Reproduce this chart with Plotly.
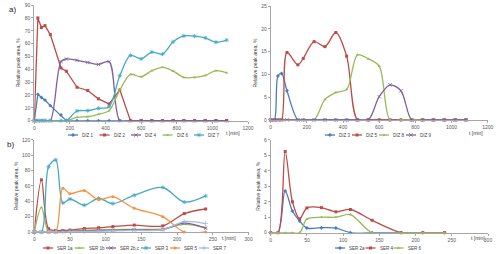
import plotly.graph_objects as go

# ---------------- data ----------------
t_a = [0, 20, 40, 60, 90, 150, 180, 240, 300, 360, 420, 480, 540, 600, 660, 720, 780, 840, 900, 960, 1020, 1080]

diz1 = [0, 20.5, 18, 16, 11.7, 4.4, 0, 0, 0, 0, 0, 0, 0, 0, 0, 0, 0, 0, 0, 0, 0, 0]
diz2 = [0, 80, 72.5, 74, 67, 41, 38.5, 26, 23.5, 17, 13, 24, 0, 0, 0, 0, 0, 0, 0, 0, 0, 0]
diz4 = [0, 0, 0, 0, 0, 46, 48, 47, 45.3, 43.8, 46, 0, 0, 0, 0, 0, 0, 0, 0, 0, 0, 0]
diz6 = [0, 0, 0, 0, 0, 0, 0, 2.6, 3.1, 4.9, 7.8, 23.8, 36, 34.2, 38.9, 41.5, 38.6, 33.7, 33.7, 35.2, 38.9, 37.3]
diz7 = [0, 0, 0, 0, 0, 0, 0, 7.5, 7.8, 9.6, 10.9, 35, 50.8, 48.2, 53.4, 51.8, 61.4, 66, 65.8, 64.5, 61.1, 62.7]

diz3 = [0, 0, 9.65, 10.2, 6.4, 0, 0, 0, 0, 0, 0, 0, 0, 0, 0, 0, 0, 0, 0, 0, 0, 0]
diz5 = [0, 0, 0, 0, 14.8, 12.1, 13.5, 17.2, 16.1, 19.2, 14.0, 0, 0, 0, 0, 0, 0, 0, 0, 0, 0, 0]
diz8 = [0, 0, 0, 0, 0, 0, 0, 0, 4.5, 6.0, 6.7, 14.3, 13.4, 11.8, 0, 0, 0, 0, 0, 0, 0, 0]
diz9 = [0, 0, 0, 0, 0, 0, 0, 0, 0, 0, 0, 0, 0, 5.1, 7.7, 6.4, 0, 0, 0, 0, 0, 0]

t_b = [0, 10, 20, 30, 40, 50, 70, 90, 110, 140, 180, 210, 240]

ser1a = [0, 68, 4.3, 2, 2, 2.5, 4.5, 5.5, 7, 9, 8, 24, 30]
ser1b = [0, 32, 0, 0.5, 0.5, 1, 2, 3, 3, 3.5, 4, 10, 5.5]
ser2bc = [0, 0, 0, 0, 0.5, 0.8, 1.2, 1.8, 2.2, 2.8, 3.2, 11.5, 5]
ser3 = [0, 0, 85, 94, 38, 43, 35, 44, 37, 48, 58, 39, 47]
ser5 = [0, 0, 0, 0, 57, 50, 54, 42, 46, 31, 20, 0, 0]
ser7 = [0, 0, 0, 0, 0, 0.5, 0.5, 1, 1.5, 2, 3, 13.5, 11]

ser2a = [0, 0, 2.7, 1.4, 0.75, 0.3, 0.32, 0.3, 0, 0, 0, 0, 0]
ser4 = [0, 0, 5.25, 2.0, 0.9, 1.6, 1.62, 1.35, 1.5, 0.8, 0, 0, 0]
ser6 = [0, 0, 0, 0, 0, 0.88, 1.0, 1.0, 1.17, 0, 0, 0, 0]

# ---------------- styles ----------------
BLUE, RED, GREEN, PURPLE, CYAN, ORANGE, LBLUE = (
    "#4A7EBB", "#BE4B48", "#98B954", "#7D60A0", "#46AAC5", "#F69240", "#A3BDE0")
FONT = "Liberation Sans, Arial, sans-serif"
LEG_FONT = 4.5

# (x axis, y axis, times, series, legend start (px), legend gap (px))
panels = [
    ("x", "y", t_a, [
        ("DIZ 1", diz1, BLUE, "diamond", "linear"),
        ("DIZ 2", diz2, RED, "square", "linear"),
        ("DIZ 4", diz4, PURPLE, "x-thin", "spline"),
        ("DIZ 6", diz6, GREEN, "triangle-up", "spline"),
        ("DIZ 7", diz7, CYAN, "asterisk", "spline"),
    ], (68, 135), 8.5),
    ("x2", "y2", t_a, [
        ("DIZ 3", diz3, BLUE, "diamond", "spline"),
        ("DIZ 5", diz5, RED, "square", "spline"),
        ("DIZ 8", diz8, GREEN, "triangle-up", "spline"),
        ("DIZ 9", diz9, PURPLE, "x-thin", "spline"),
    ], (325, 135), 4),
    ("x3", "y3", t_b, [
        ("SER 1a", ser1a, RED, "square", "spline"),
        ("SER 1b", ser1b, GREEN, "triangle-up", "spline"),
        ("SER 2b,c", ser2bc, PURPLE, "x-thin", "spline"),
        ("SER 3", ser3, CYAN, "asterisk", "spline"),
        ("SER 5", ser5, ORANGE, "circle", "spline"),
        ("SER 7", ser7, LBLUE, "cross-thin", "spline"),
    ], (43, 248), 4),
    ("x4", "y4", t_b, [
        ("SER 2a", ser2a, BLUE, "diamond", "spline"),
        ("SER 4", ser4, RED, "square", "spline"),
        ("SER 6", ser6, GREEN, "triangle-up", "spline"),
    ], (335, 248), 3),
]

# approximate Arial advance widths (em) for legend spacing
CHAR_W = {"D": .722, "I": .278, "Z": .611, "S": .667, "E": .667, "R": .722, " ": .278,
          "a": .556, "b": .556, "c": .5, ",": .278}


def text_w(s, size):
    return sum(CHAR_W.get(ch, .556) for ch in s) * size


def marker(color, symbol, size=3.0):
    thin = symbol in ("x-thin", "asterisk", "cross-thin")
    return dict(symbol=symbol, size=size + (0.5 if thin else 0), color=color,
                line=dict(color=color, width=0.8 if thin else 0))


fig = go.Figure()
annotations = []

for xa, ya, t, series, (lx, ly), gap in panels:
    for name, vals, color, sym, shape in series:
        fig.add_trace(go.Scatter(
            x=t, y=vals, name=name, mode="lines+markers", xaxis=xa, yaxis=ya,
            line=dict(color=color, width=1.3, shape=shape, smoothing=0.9),
            marker=marker(color, sym), cliponaxis=False, showlegend=False))
    # custom compact legend (drawn on full-page helper axes)
    cx = lx
    for name, vals, color, sym, shape in series:
        fig.add_trace(go.Scatter(
            x=[cx, cx + 10], y=[ly, ly], mode="lines", xaxis="x5", yaxis="y5",
            line=dict(color=color, width=1.3), showlegend=False, hoverinfo="skip"))
        fig.add_trace(go.Scatter(
            x=[cx + 5], y=[ly], mode="markers", xaxis="x5", yaxis="y5",
            marker=marker(color, sym), showlegend=False, hoverinfo="skip"))
        annotations.append(dict(x=cx + 12, y=ly, xref="x5", yref="y5", text=name,
                                showarrow=False, xanchor="left", yanchor="middle",
                                font=dict(size=LEG_FONT, color="#404040", family=FONT)))
        cx += 12 + text_w(name, LEG_FONT) + gap

for (x, y) in [(233, 133), (476, 133), (229, 238), (478, 238)]:
    annotations.append(dict(x=x, y=y, xref="x5", yref="y5", text="t [min]",
                            showarrow=False, xanchor="center", yanchor="middle",
                            font=dict(size=5, color="#404040", family=FONT)))
annotations.append(dict(x=7, y=9, xref="x5", yref="y5", text="a)", showarrow=False,
                        xanchor="left", yanchor="middle",
                        font=dict(size=8, color="#222", family=FONT)))
annotations.append(dict(x=5, y=144, xref="x5", yref="y5", text="b)", showarrow=False,
                        xanchor="left", yanchor="middle",
                        font=dict(size=8, color="#222", family=FONT)))

ax_common = dict(showline=True, linecolor="#A6A6A6", linewidth=1, ticks="outside",
                 ticklen=2, tickcolor="#A6A6A6", tickwidth=1, showgrid=False,
                 zeroline=False, tickfont=dict(size=5, color="#595959", family=FONT),
                 fixedrange=True, automargin=False)
ytitle = dict(text="Relative peak area, %", font=dict(size=5, color="#404040", family=FONT),
              standoff=3)

fig.update_layout(
    template="none",
    width=500, height=254, margin=dict(l=0, r=0, t=0, b=0, pad=0), autosize=False,
    paper_bgcolor="white", plot_bgcolor="rgba(0,0,0,0)",
    font=dict(family=FONT),
    xaxis=dict(ax_common, domain=[0.0686, 0.496], range=[0, 1200], dtick=200, anchor="y"),
    yaxis=dict(ax_common, domain=[0.525, 0.980], range=[0, 90], dtick=10, anchor="x", title=ytitle),
    xaxis2=dict(ax_common, domain=[0.5414, 0.9754], range=[0, 1200], dtick=200, anchor="y2"),
    yaxis2=dict(ax_common, domain=[0.528, 0.976], range=[0, 25], dtick=5, anchor="x2", title=ytitle),
    xaxis3=dict(ax_common, domain=[0.0686, 0.497], range=[0, 300], dtick=50, anchor="y3"),
    yaxis3=dict(ax_common, domain=[0.0866, 0.449], range=[0, 120], dtick=20, anchor="x3", title=ytitle),
    xaxis4=dict(ax_common, domain=[0.5414, 0.976], range=[0, 300], dtick=50, anchor="y4"),
    yaxis4=dict(ax_common, domain=[0.084, 0.449], range=[0, 6], dtick=1, anchor="x4", title=ytitle),
    xaxis5=dict(domain=[0, 1], range=[0, 500], visible=False, fixedrange=True, anchor="y5",
                automargin=False),
    yaxis5=dict(domain=[0, 1], range=[254, 0], visible=False, fixedrange=True, anchor="x5",
                automargin=False),
    annotations=annotations,
    showlegend=False,
    hovermode=False,
)

fig.write_html("out.html",
               config={"displayModeBar": False, "staticPlot": True},
               post_script="document.body.style.margin='0px';document.body.style.overflow='hidden';")
